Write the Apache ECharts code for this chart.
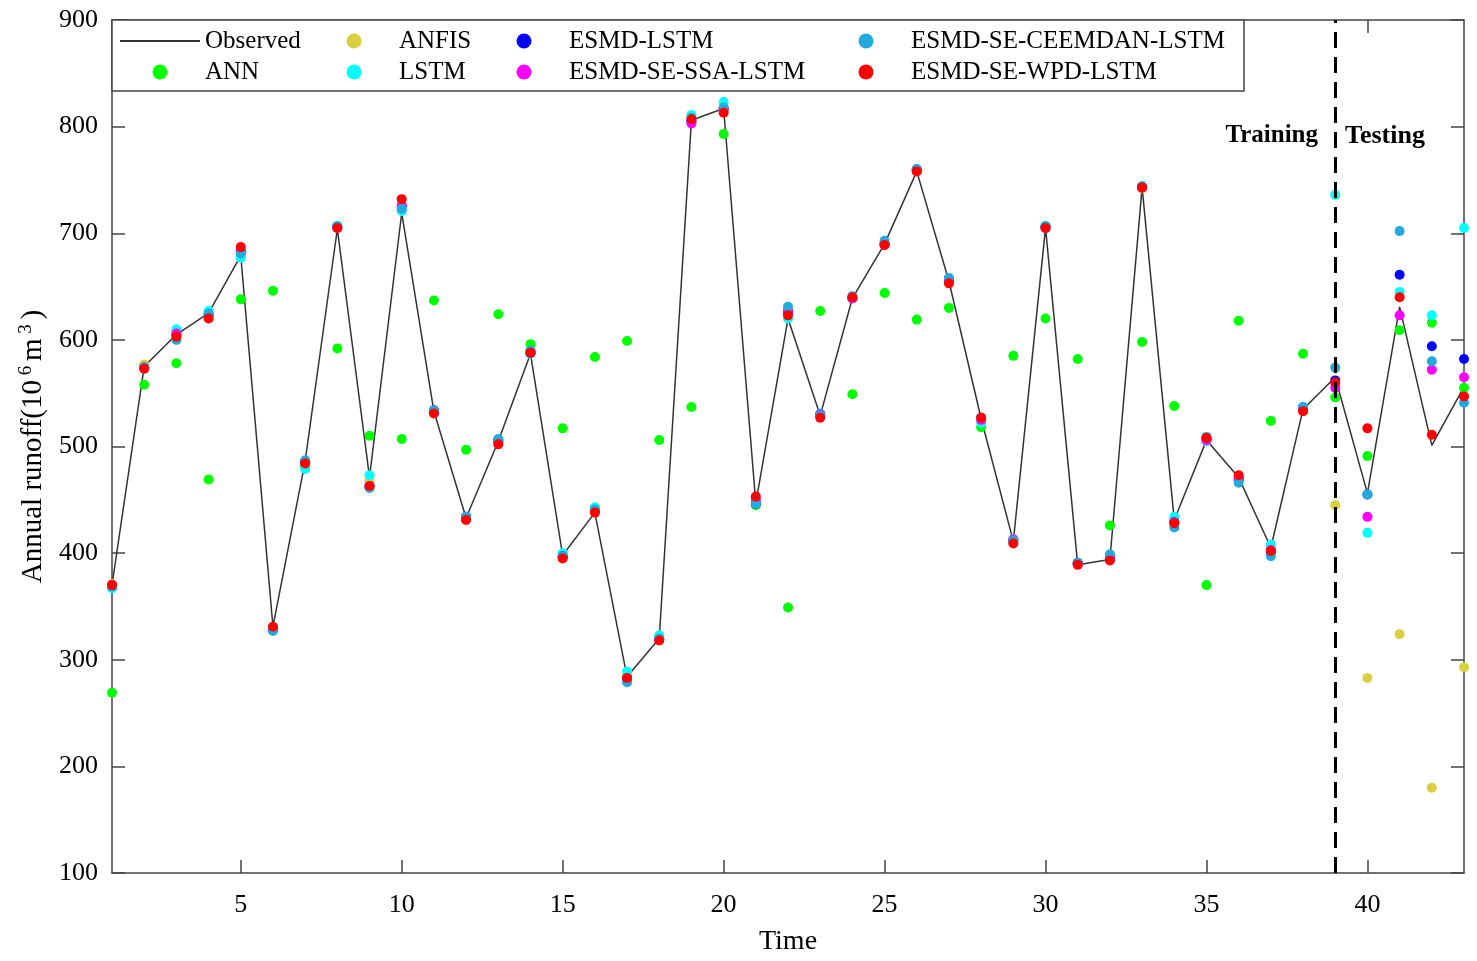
<!DOCTYPE html>
<html>
<head>
<meta charset="utf-8">
<script src="https://cdn.jsdelivr.net/npm/echarts@6.0.0/dist/echarts.min.js"></script>
<style>
html,body{margin:0;padding:0;background:#fff;}
#chart{width:1477px;height:961px;}
</style>
</head>
<body>
<div id="chart"></div>
<script>
// ---- data ----
const timeSteps = [1,2,3,4,5,6,7,8,9,10,11,12,13,14,15,16,17,18,19,20,21,22,23,24,25,26,27,28,29,30,31,32,33,34,35,36,37,38,39,40,41,42,43];
const observed = [370,575,605,625,679,331,486,704,471,719,533,433,505,587,398,438,284,320,806,817,447,620,529,639,690,758,655,526,411,705,389,394,743,431,506,471,405,535,565,456,631,501,556];
const ann      = [269,558,578,469,638,646,482,592,510,507,637,497,624,596,517,584,599,506,537,793,445,349,627,549,644,619,630,518,585,620,582,426,598,538,370,618,524,587,546,491,609,616,555];
const anfis    = [371,577,604,623,680,330,485,705,468,721,533,433,505,587,397,439,284,320,806,816,448,621,529,640,690,758,655,526,411,705,390,394,742,431,507,471,404,535,445,283,324,180,293];
const lstm     = [367,573,610,627,677,328,479,707,473,721,533,433,505,587,400,443,289,323,811,823,447,620,531,640,691,759,657,522,413,707,390,397,744,434,505,468,408,537,736,419,645,623,705];
const esmdLstm = [369,574,605,624,683,329,486,706,462,725,534,434,506,588,397,440,281,319,805,817,446,626,530,639,690,760,657,527,412,706,391,396,743,429,507,469,401,536,562,455,661,594,582];
const ssaLstm  = [370,574,606,623,684,330,485,705,463,726,532,432,505,589,396,439,282,319,803,816,450,627,530,639,689,759,655,525,413,705,390,395,743,429,506,471,403,535,555,434,623,572,565];
const ceemdanLstm = [369,574,600,624,681,327,487,706,461,723,534,434,507,590,397,441,279,320,808,818,446,631,529,641,693,760,658,527,412,706,391,399,744,424,509,466,397,537,574,455,702,580,541];
const wpdLstm  = [370,573,603,620,687,331,484,705,463,732,531,431,502,588,395,438,283,318,807,813,453,623,527,640,689,758,653,527,409,705,389,393,743,428,508,473,402,533,560,517,640,511,547];
const xTicks = [5,10,15,20,25,30,35,40];
const splitAt = 39;

const seriesNames = ['Observed','ANN','ANFIS','LSTM','ESMD-LSTM','ESMD-SE-SSA-LSTM','ESMD-SE-CEEMDAN-LSTM','ESMD-SE-WPD-LSTM'];
const seriesColors = ['#333333','#00ff00','#d9d040','#00ffff','#0000ff','#ff00ff','#22aadd','#ff0000'];
const seriesValues = [observed, ann, anfis, lstm, esmdLstm, ssaLstm, ceemdanLstm, wpdLstm];

// ---- chart ----
const FONT = '"Liberation Serif", "Times New Roman", serif';
const chart = echarts.init(document.getElementById('chart'), null, {renderer:'canvas'});
const pair = vals => timeSteps.map((t,i)=>[t, vals[i]]);

const axisLineStyle = {color:'#444', width:1.5};
const series = seriesNames.map((name, k) => {
  if (k === 0) {
    return {
      name, type:'line', data: pair(seriesValues[k]), symbol:'none', showSymbol:false,
      lineStyle:{color:seriesColors[k], width:1.5}, itemStyle:{color:seriesColors[k]}, z:1,
      markLine:{
        silent:true, symbol:['none','none'], z:10,
        label:{show:false},
        lineStyle:{color:'#000', width:3, type:[16,9]},
        data:[{xAxis: splitAt}]
      }
    };
  }
  return {
    name, type:'scatter', data: pair(seriesValues[k]), symbol:'circle', symbolSize:10,
    itemStyle:{color:seriesColors[k], opacity:1}, z:2
  };
});

// legend layout: 4 columns x 2 rows (column-major); marker centres at 160, 354, 524, 866
const markerCols = [160, 354, 524, 866];
const legendRows = [28.5, 59.5];
const legends = seriesNames.map((name, k) => {
  const common = {
    top: legendRows[k%2], orient:'horizontal', padding:0,
    selectedMode:false, z:200,
    textStyle:{fontFamily:FONT, fontSize:25, color:'#000'}
  };
  if (k === 0) {
    return Object.assign(common, {
      data:[{name, icon:'rect'}], left:120, itemWidth:80, itemHeight:2
    });
  }
  return Object.assign(common, {
    data:[{name, icon:'circle'}], left: markerCols[Math.floor(k/2)] - 7.5,
    itemWidth:80, itemHeight:15
  });
});

chart.setOption({
  animation:false,
  backgroundColor:'#fff',
  grid:{left:112, right:13, top:20, bottom:85, containLabel:false},
  legend: legends,
  xAxis:[{
    type:'value', min:1, max:43, position:'bottom',
    name:'Time', nameLocation:'middle', nameGap:55,
    nameTextStyle:{fontFamily:FONT, fontSize:28, color:'#000'},
    axisLine:{show:true, lineStyle:axisLineStyle},
    axisTick:{show:true, inside:true, length:13, lineStyle:axisLineStyle, customValues:xTicks},
    axisLabel:{fontFamily:FONT, fontSize:26, color:'#000', margin:19, customValues:xTicks},
    splitLine:{show:false}
  },{
    type:'value', min:1, max:43, position:'top',
    axisLine:{show:true, lineStyle:axisLineStyle},
    axisTick:{show:true, inside:true, length:13, lineStyle:axisLineStyle, customValues:xTicks},
    axisLabel:{show:false, customValues:xTicks},
    splitLine:{show:false}
  }],
  yAxis:[{
    type:'value', min:100, max:900, interval:100, position:'left',
    name:'{a|Annual runoff(10}{s| 6 }{a|m}{s| 3 }{a|)}', nameLocation:'middle', nameGap:63,
    nameTextStyle:{
      rich:{
        a:{fontFamily:FONT, fontSize:29, color:'#000', lineHeight:32, verticalAlign:'bottom'},
        s:{fontFamily:FONT, fontSize:19, color:'#000', lineHeight:32, verticalAlign:'top'}
      }
    },
    axisLine:{show:true, lineStyle:axisLineStyle},
    axisTick:{show:true, inside:true, length:13, lineStyle:axisLineStyle},
    axisLabel:{fontFamily:FONT, fontSize:26, color:'#000', margin:14},
    splitLine:{show:false}
  },{
    type:'value', min:100, max:900, interval:100, position:'right',
    axisLine:{show:true, lineStyle:axisLineStyle},
    axisTick:{show:true, inside:true, length:13, lineStyle:axisLineStyle},
    axisLabel:{show:false},
    splitLine:{show:false}
  }],
  graphic:[
    {type:'rect', z:100, shape:{x:112, y:20, width:1132, height:71},
     style:{fill:'#fff', stroke:'#444', lineWidth:1.5}},
    {type:'text', z:100, x:1318, y:136,
     style:{text:'Training', fontFamily:FONT, fontSize:25, fontWeight:'bold', fill:'#000', align:'right', verticalAlign:'middle'}},
    {type:'text', z:100, x:1345, y:136,
     style:{text:'Testing', fontFamily:FONT, fontSize:26, fontWeight:'bold', fill:'#000', align:'left', verticalAlign:'middle'}}
  ],
  series
});
</script>
</body>
</html>
